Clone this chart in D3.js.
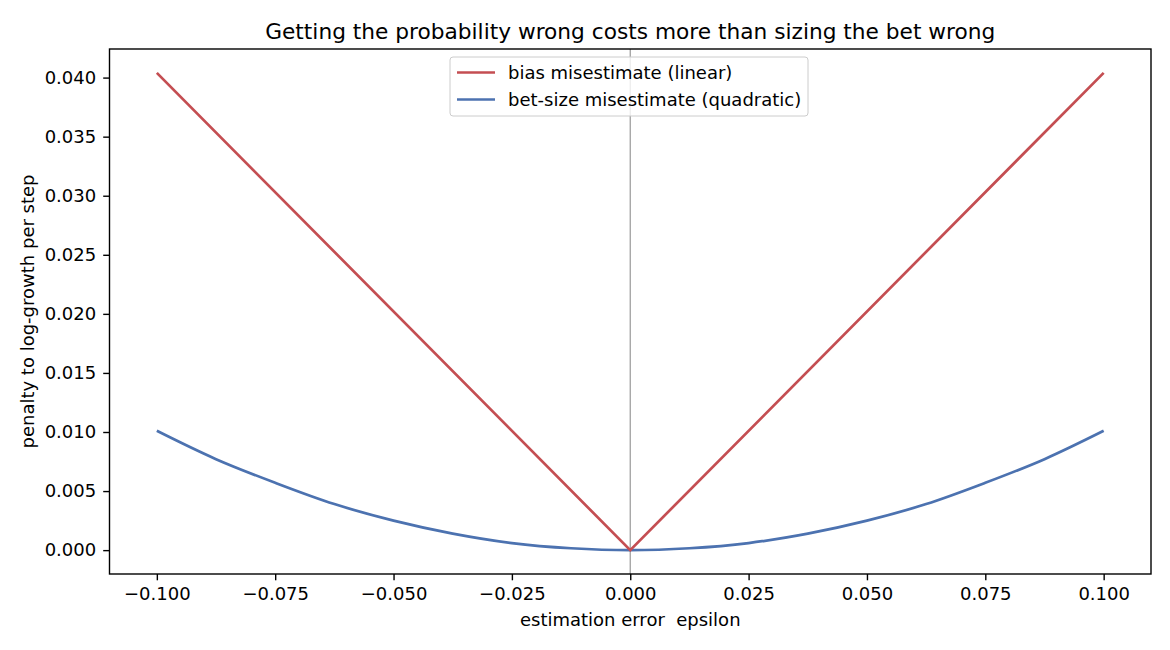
<!DOCTYPE html>
<html>
<head>
<meta charset="utf-8">
<script src="https://cdn.jsdelivr.net/npm/d3@7"></script>
<style>
  body { margin: 0; background: #fff; }
  text { font-family: "DejaVu Sans", sans-serif; fill: #000; }
</style>
</head>
<body>
<script>
// values
const epsLinear = [-0.1, 0, 0.1];
const biasPenalty = [0.0404, 0, 0.0404];

const epsQuad = [-0.1, -0.0875, -0.075, -0.0625, -0.05, -0.0375, -0.025, -0.0125, 0,
                 0.0125, 0.025, 0.0375, 0.05, 0.0625, 0.075, 0.0875, 0.1];
const betPenalty = [0.0101, 0.0077, 0.0057, 0.0039, 0.0025, 0.0014, 0.0006, 0.00016, 0,
                    0.00016, 0.0006, 0.0014, 0.0025, 0.0039, 0.0057, 0.0077, 0.0101];

const xTicks = [-0.1, -0.075, -0.05, -0.025, 0, 0.025, 0.05, 0.075, 0.1];
const yTicks = [0, 0.005, 0.01, 0.015, 0.02, 0.025, 0.03, 0.035, 0.04];

const seriesNames = ["bias misestimate (linear)", "bet-size misestimate (quadratic)"];
const seriesColors = ["#c44e52", "#4c72b0"];

const width = 1170, height = 650;
const margin = {top: 49, right: 19, bottom: 76, left: 109.5};

const svg = d3.select("body").append("svg")
    .attr("width", width)
    .attr("height", height);

const x = d3.scaleLinear()
    .domain([-0.11, 0.11])
    .range([margin.left, width - margin.right]);
const y = d3.scaleLinear()
    .domain([-0.00202, 0.04242])
    .range([height - margin.bottom, margin.top]);

// vertical reference line at zero
svg.append("line")
    .attr("x1", x(0)).attr("x2", x(0))
    .attr("y1", margin.top).attr("y2", height - margin.bottom)
    .attr("stroke", "#a0a0a0").attr("stroke-width", 1.3);

svg.append("path")
    .datum(d3.zip(epsQuad, betPenalty))
    .attr("fill", "none")
    .attr("stroke", seriesColors[1])
    .attr("stroke-width", 2.7)
    .attr("d", d3.line().x(d => x(d[0])).y(d => y(d[1])).curve(d3.curveCatmullRom));

svg.append("path")
    .datum(d3.zip(epsLinear, biasPenalty))
    .attr("fill", "none")
    .attr("stroke", seriesColors[0])
    .attr("stroke-width", 2.7)
    .attr("d", d3.line().x(d => x(d[0])).y(d => y(d[1])));

// axes
const xAxis = svg.append("g")
    .attr("transform", `translate(0,${height - margin.bottom})`)
    .call(d3.axisBottom(x).tickValues(xTicks).tickSize(6.3).tickPadding(6)
        .tickFormat(d => d3.format(".3f")(d).replace("-", "\u2212")));
const yAxis = svg.append("g")
    .attr("transform", `translate(${margin.left},0)`)
    .call(d3.axisLeft(y).tickValues(yTicks).tickSize(6.3).tickPadding(7)
        .tickFormat(d3.format(".3f")));

[xAxis, yAxis].forEach(g => {
  g.select(".domain").remove();
  g.selectAll("text").style("font-size", "18px").style("font-family", "DejaVu Sans, sans-serif");
  g.selectAll("line").attr("stroke", "#000").attr("stroke-width", 1.4);
});
xAxis.selectAll("text").attr("dy", "0.78em");

// frame
svg.append("rect")
    .attr("x", margin.left).attr("y", margin.top)
    .attr("width", width - margin.left - margin.right)
    .attr("height", height - margin.top - margin.bottom)
    .attr("fill", "none").attr("stroke", "#000").attr("stroke-width", 1.4);

// labels
svg.append("text")
    .attr("x", (margin.left + width - margin.right) / 2)
    .attr("y", 31).attr("dy", "0.35em")
    .attr("text-anchor", "middle")
    .style("font-size", "21.7px")
    .text("Getting the probability wrong costs more than sizing the bet wrong");

svg.append("text")
    .attr("x", (margin.left + width - margin.right) / 2)
    .attr("y", 620).attr("dy", "0.35em")
    .attr("text-anchor", "middle")
    .style("font-size", "18px")
    .style("white-space", "pre")
    .text("estimation error  epsilon");

svg.append("text")
    .attr("transform", `translate(28,${(margin.top + height - margin.bottom) / 2}) rotate(-90)`)
    .attr("dy", "0.35em")
    .attr("text-anchor", "middle")
    .style("font-size", "18px")
    .text("penalty to log-growth per step");

// legend
const legend = svg.append("g").attr("transform", "translate(450,57)");
legend.append("rect")
    .attr("width", 358).attr("height", 59).attr("rx", 3)
    .attr("fill", "#fff").attr("fill-opacity", 0.8)
    .attr("stroke", "#ccc").attr("stroke-width", 1);
seriesNames.forEach((name, i) => {
  const gy = 15.5 + i * 27;
  legend.append("line")
      .attr("x1", 7).attr("x2", 45).attr("y1", gy).attr("y2", gy)
      .attr("stroke", seriesColors[i]).attr("stroke-width", 2.7);
  legend.append("text")
      .attr("x", 58).attr("y", gy).attr("dy", "0.35em")
      .style("font-size", "18px")
      .text(name);
});
</script>
</body>
</html>
